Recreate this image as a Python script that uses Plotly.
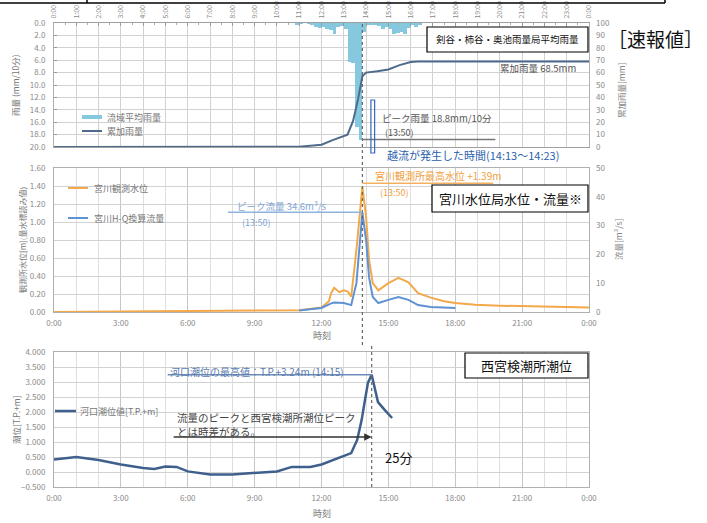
import plotly.graph_objects as go

# ---------------- data ----------------
top_tick_vals = list(range(25))
top_tick_text = ["0:00", "1:00", "2:00", "3:00", "4:00", "5:00", "6:00", "7:00", "8:00", "9:00",
                 "10:00", "11:00", "12:00", "13:00", "14:00", "15:00", "16:00", "17:00", "18:00",
                 "19:00", "20:00", "21:00", "22:00", "23:00", "0:00"]
major_tick_vals = [0, 3, 6, 9, 12, 15, 18, 21, 24]
major_tick_text = ["0:00", "3:00", "6:00", "9:00", "12:00", "15:00", "18:00", "21:00", "0:00"]

# 10-minute basin-average rainfall (bin end time, mm/10min)
rain_time = ["11:00", "11:10", "11:20", "11:30", "11:40", "11:50", "12:00", "12:10", "12:20",
             "12:30", "12:40", "12:50", "13:00", "13:10", "13:20", "13:30", "13:40", "13:50",
             "14:00", "14:10", "14:20", "14:30", "14:40", "14:50", "15:00", "15:10", "15:20",
             "15:30", "15:40", "15:50", "16:00", "16:10", "16:20", "16:30"]
rain_val = [0.4, 0.1, 0.0, 0.1, 0.2, 0.7, 0.8, 0.7, 0.9,
            1.2, 1.7, 0.6, 0.5, 1.0, 6.3, 6.5, 16.8, 18.8,
            1.5, 0.2, 0.3, 0.4, 0.5, 0.9, 0.7, 0.9, 1.7,
            1.6, 1.5, 1.7, 0.8, 0.4, 0.6, 0.2]

# cumulative rainfall (mm)
cum_time = ["0:00", "11:00", "11:30", "12:00", "12:30", "12:50", "13:10", "13:25", "13:38",
            "13:50", "14:00", "14:30", "15:00", "15:30", "16:00", "16:20", "24:00"]
cum_val = [0, 0.3, 1.0, 1.8, 5.5, 8.0, 10.0, 21.0, 38.0,
           57.0, 60.0, 61.0, 62.5, 66.0, 68.5, 69.0, 69.0]

# Miyagawa water level (m)
lv_time = ["0:00", "11:00", "12:00", "12:20", "12:26", "12:34", "12:48", "13:00", "13:10",
           "13:20", "13:34", "13:42", "13:50", "14:00", "14:08", "14:18", "14:33", "15:00",
           "15:27", "15:54", "16:20", "16:54", "17:30", "18:00", "18:54", "20:00", "21:54", "24:00"]
lv_val = [0.0, 0.02, 0.05, 0.12, 0.21, 0.27, 0.22, 0.24, 0.23,
          0.17, 0.69, 1.06, 1.39, 1.06, 0.58, 0.32, 0.24, 0.32,
          0.38, 0.33, 0.21, 0.16, 0.12, 0.10, 0.08, 0.07, 0.06, 0.05]

# Miyagawa H-Q converted discharge (m3/s)
fl_time = ["11:00", "12:00", "12:26", "12:34", "13:00", "13:20", "13:34", "13:42", "13:50",
           "14:00", "14:08", "14:18", "14:33", "15:00", "15:27", "15:54", "16:20", "16:54",
           "17:30", "18:00"]
fl_val = [0.5, 1.4, 3.0, 3.3, 3.1, 2.4, 10.0, 24.0, 34.6,
          25.0, 12.0, 5.2, 3.1, 4.2, 5.2, 4.2, 2.4, 1.7,
          1.5, 1.4]

# Nishinomiya tide level (T.P. +m)
td_time = ["0:00", "1:00", "2:00", "3:00", "4:00", "4:30", "5:00", "5:30", "6:00", "7:00",
           "8:00", "9:00", "10:00", "10:40", "11:30", "12:00", "12:30", "12:50", "13:20",
           "13:36", "13:48", "13:57", "14:05", "14:15", "14:20", "14:32", "14:50", "15:10"]
td_val = [0.42, 0.50, 0.40, 0.25, 0.13, 0.10, 0.18, 0.17, 0.02, -0.08,
          -0.08, -0.02, 0.02, 0.17, 0.17, 0.25, 0.40, 0.50, 0.63,
          1.07, 1.73, 2.40, 2.97, 3.24, 2.97, 2.33, 2.07, 1.80]

peak_rain = 18.8
peak_flow = 34.6
peak_level = 1.39
peak_tide = 3.24
peak_flow_time = "13:50"
peak_tide_time = "14:15"
overflow_start = "14:13"
overflow_end = "14:23"


def hrs(s):
    h, m = s.split(":")
    return int(h) + int(m) / 60.0


# ---------------- geometry helpers (pixel -> paper) ----------------
L, R, T, B = 54, 589, 23, 487
W, H = 707, 523


def px(x):
    return (x - L) / (R - L)


def py(y):
    return 1 - (y - T) / (B - T)


FONT = "Noto Sans CJK JP"
GRID = "#d2d2d2"
TICKC = "#8a8a8a"

C_BAR = "#86c8de"
C_CUM = "#4e6b8c"
C_LV = "#f3a84a"
C_FL = "#5f92d3"
C_TD = "#3f5f8c"

fig = go.Figure()
fig.add_trace(go.Bar(x=[hrs(t) - 5 / 60 for t in rain_time], y=rain_val, width=10 / 60,
                     marker=dict(color=C_BAR, line=dict(width=0)), name="流域平均雨量",
                     xaxis="x", yaxis="y"))
fig.add_trace(go.Scatter(x=[hrs(t) for t in cum_time], y=cum_val, mode="lines",
                         line=dict(color=C_CUM, width=2), name="累加雨量", xaxis="x", yaxis="y4"))
fig.add_trace(go.Scatter(x=[hrs(t) for t in lv_time], y=lv_val, mode="lines",
                         line=dict(color=C_LV, width=2), name="宮川観測水位", xaxis="x2", yaxis="y2"))
fig.add_trace(go.Scatter(x=[hrs(t) for t in fl_time], y=fl_val, mode="lines",
                         line=dict(color=C_FL, width=2), name="宮川H-Q換算流量", xaxis="x2", yaxis="y5"))
fig.add_trace(go.Scatter(x=[hrs(t) for t in td_time], y=td_val, mode="lines",
                         line=dict(color=C_TD, width=2.5), name="河口潮位値[T.P.+m]", xaxis="x3", yaxis="y3"))

tickfont = dict(size=8, color=TICKC, family=FONT)

common_y = dict(showgrid=True, gridcolor=GRID, zeroline=False, showline=True, linecolor="#b0b0b0",
                mirror=True, tickfont=tickfont, ticklabelstandoff=6, automargin=False)
right_y = dict(showgrid=False, zeroline=False, showline=False, tickfont=tickfont, ticklabelstandoff=6,
               side="right", automargin=False)
bottom_x = dict(range=[0, 24], tickmode="array", tickvals=major_tick_vals, ticktext=major_tick_text,
                showgrid=True, gridcolor="#c6c6c6", zeroline=False, showline=True, linecolor="#b0b0b0",
                mirror=True, tickfont=tickfont, ticklabelstandoff=3, automargin=False,
                minor=dict(tickmode="array", tickvals=top_tick_vals, showgrid=True, gridcolor="#dedede"))

fig.update_layout(
    width=W, height=523, margin=dict(l=L, r=W - R, t=T, b=H - B, autoexpand=False),
    paper_bgcolor="white", plot_bgcolor="white", showlegend=False,
    font=dict(family=FONT, color="#555"),
    xaxis=dict(domain=[0, 1], anchor="y", side="top", range=[0, 24], tickmode="array",
               tickvals=top_tick_vals, ticktext=top_tick_text, tickangle=-90,
               tickfont=dict(size=7, color=TICKC, family=FONT), showgrid=True, gridcolor=GRID,
               zeroline=False, showline=True, linecolor="#a0a0a0", mirror=True, automargin=False,
               ticks="inside", ticklen=3, tickcolor="#999", ticklabelstandoff=2,
               minor=dict(tickmode="array", tickvals=[h + 0.5 for h in range(24)], ticks="inside",
                          ticklen=2, tickcolor="#aaa", showgrid=False)),
    yaxis=dict(domain=[py(147), py(23)], anchor="x", range=[20, 0], tick0=0, dtick=2,
               tickformat=".1f", ticks="inside", ticklen=3, tickcolor="#999", **common_y),
    yaxis4=dict(overlaying="y", anchor="x", range=[0, 100], dtick=10, **right_y),
    xaxis2=dict(domain=[0, 1], anchor="y2", **bottom_x),
    yaxis2=dict(domain=[py(312), py(168)], anchor="x2", range=[0, 1.6], dtick=0.2,
                tickformat=".2f", **common_y),
    yaxis5=dict(overlaying="y2", anchor="x2", range=[0, 50], dtick=10, **right_y),
    xaxis3=dict(domain=[0, 1], anchor="y3", **bottom_x),
    yaxis3=dict(domain=[py(487), py(352)], anchor="x3", range=[-0.5, 4.0], tick0=0, dtick=0.5,
                tickformat=".3f", **common_y),
    bargap=0,
)

shapes = []
annos = []


def box(x0, y0, x1, y1, text, size):
    shapes.append(dict(type="rect", xref="paper", yref="paper", x0=px(x0), x1=px(x1),
                       y0=py(y1), y1=py(y0), line=dict(color="black", width=1.2),
                       fillcolor="white", layer="above"))
    annos.append(dict(xref="paper", yref="paper", x=px((x0 + x1) / 2), y=py((y0 + y1) / 2),
                      text=text, showarrow=False, font=dict(size=size, color="#111", family=FONT),
                      xanchor="center", yanchor="middle"))


def label(x, y, text, size=9, color="#555", anchor="left", angle=0, align="left"):
    annos.append(dict(xref="paper", yref="paper", x=px(x), y=py(y), text=text, showarrow=False,
                      font=dict(size=size, color=color, family=FONT), xanchor=anchor,
                      yanchor="middle", textangle=angle, align=align))


def pline(x0, y0, x1, y1, color, width, dash="solid"):
    shapes.append(dict(type="line", xref="paper", yref="paper", x0=px(x0), x1=px(x1),
                       y0=py(y0), y1=py(y1), line=dict(color=color, width=width, dash=dash)))


# header table edge
pline(0, 3, 665, 3, "black", 1.5)
pline(87, 0, 87, 3, "black", 1.5)
pline(665, 0, 665, 3, "black", 1.5)

# dotted time markers
shapes.append(dict(type="line", xref="x", yref="paper", x0=hrs(peak_flow_time), x1=hrs(peak_flow_time),
                   y0=py(345), y1=py(23), line=dict(color="#666", width=1.2, dash="dot")))
shapes.append(dict(type="line", xref="x3", yref="paper", x0=hrs(peak_tide_time), x1=hrs(peak_tide_time),
                   y0=py(487), y1=py(345), line=dict(color="#666", width=1.2, dash="dot")))

# ---- top panel ----
box(427, 27, 588, 52, "剣谷・柿谷・奥池雨量局平均雨量", 9.5)
label(655, 39, "［速報値］", size=19, color="#111", anchor="center")
label(498, 68, "累加雨量 68.5mm", size=9.5)
shapes.append(dict(type="line", xref="x", yref="y", x0=hrs(peak_flow_time), x1=19.8,
                   y0=peak_rain, y1=peak_rain, line=dict(color="#777", width=1.5)))
label(380, 118, "ピーク雨量 18.8mm/10分", size=9.5)
label(383, 132, "(13:50)", size=9)
shapes.append(dict(type="rect", xref="x", yref="paper", x0=hrs(overflow_start), x1=hrs(overflow_end),
                   y0=py(153), y1=py(100), line=dict(color="#3a66c0", width=1.2)))
label(385, 155, "越流が発生した時間(14:13～14:23)", size=11, color="#2b5fae")
pline(82, 117, 102, 117, C_BAR, 4)
label(105, 117, "流域平均雨量", size=9, color="#777")
pline(82, 131, 102, 131, C_CUM, 2)
label(105, 131, "累加雨量", size=9, color="#777")
label(15, 85, "雨量 (mm/10分)", size=8.5, color="#777", anchor="center", angle=-90)
label(621, 90, "累加雨量[mm]", size=8.5, color="#888", anchor="center", angle=-90)

# ---- middle panel ----
shapes.append(dict(type="line", xref="x2", yref="y5", x0=7.8, x1=hrs(peak_flow_time),
                   y0=peak_flow, y1=peak_flow, line=dict(color="#8fb3dd", width=1.5)))
label(235, 206, "ピーク流量 34.6m³/s", size=9.5, color="#7fa6d6")
label(240, 222, "(13:50)", size=9, color="#7fa6d6")
shapes.append(dict(type="line", xref="x2", yref="y2", x0=hrs(peak_flow_time), x1=19.7,
                   y0=1.43, y1=1.43, line=dict(color="#f3b060", width=1.5)))
label(373, 175, "宮川観測所最高水位 +1.39m", size=10, color="#f0a040")
label(378, 192, "(13:50)", size=9, color="#f0a040")
box(432, 185, 588, 212, "宮川水位局水位・流量※", 13)
pline(68, 188, 88, 188, C_LV, 2)
label(92, 188, "宮川観測水位", size=9, color="#777")
pline(68, 218, 88, 218, C_FL, 2)
label(92, 218, "宮川H-Q換算流量", size=9, color="#777")
label(322, 335, "時刻", size=9, color="#777", anchor="center")
label(22, 240, "観測所水位[m](量水標読み値)", size=8, color="#777", anchor="center", angle=-90)
label(618, 240, "流量[m³/s]", size=8.5, color="#888", anchor="center", angle=-90)

# ---- bottom panel ----
shapes.append(dict(type="line", xref="x3", yref="y3", x0=5.1, x1=hrs(peak_tide_time),
                   y0=peak_tide, y1=peak_tide, line=dict(color="#6d8bb8", width=1.5)))
label(168, 371, "河口潮位の最高値：T.P.+3.24m (14:15)", size=10, color="#5b7cb0")
annos.append(dict(xref="x3", yref="y3", x=hrs(peak_tide_time), y=1.17, axref="x3", ayref="y3",
                  ax=5.3, ay=1.17, text="", showarrow=True, arrowhead=2, arrowsize=1,
                  arrowwidth=1.5, arrowcolor="#333"))
label(175, 424, "流量のピークと西宮検潮所潮位ピーク<br>とは時差がある。", size=10.5, color="#444")
label(383, 457, "25分", size=13, color="#111")
box(465, 353, 588, 378, "西宮検潮所潮位", 13)
pline(55, 411, 76, 411, C_TD, 2.5)
label(78, 411, "河口潮位値[T.P.+m]", size=9, color="#777")
label(322, 513, "時刻", size=9, color="#777", anchor="center")
label(16, 420, "潮位[T.P.+m]", size=8.5, color="#777", anchor="center", angle=-90)

fig.update_layout(shapes=shapes, annotations=annos)
fig.write_html("out.html", config={"displayModeBar": False},
               post_script="document.body.style.margin='0';document.body.style.overflow='hidden';")
